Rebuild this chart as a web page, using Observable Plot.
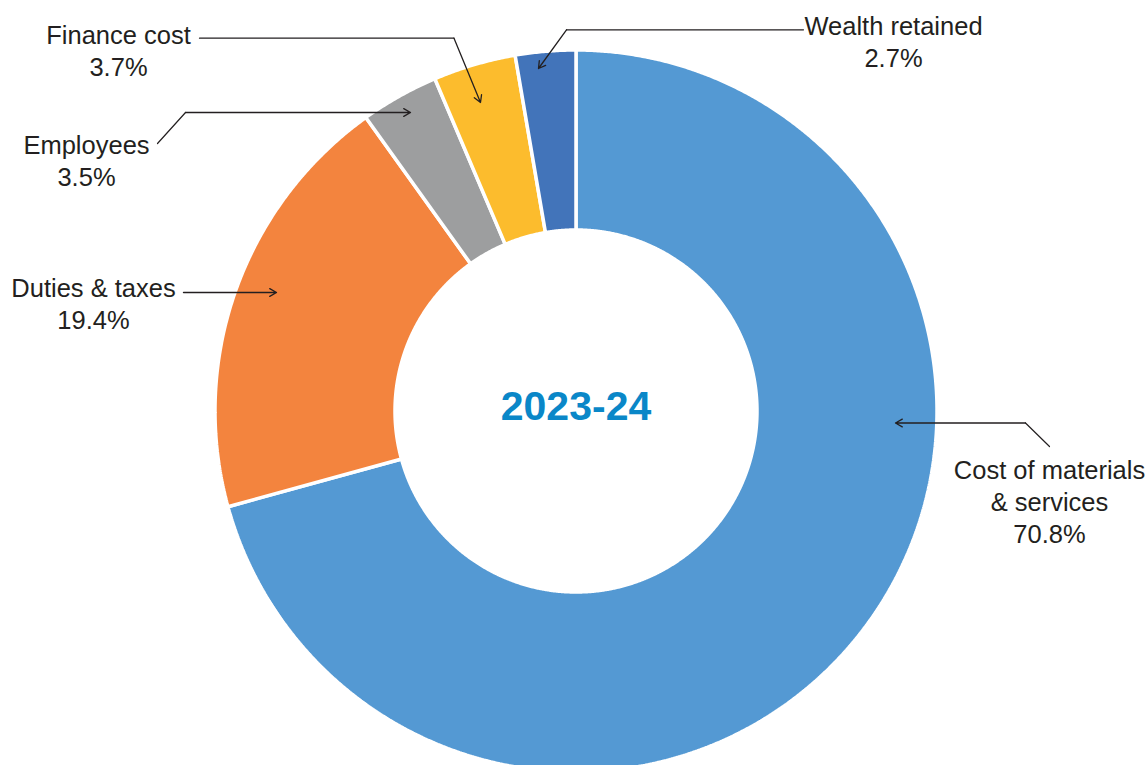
<!DOCTYPE html>
<html>
<head>
<meta charset="utf-8">
<script src="https://cdn.jsdelivr.net/npm/d3@7"></script>
<script src="https://cdn.jsdelivr.net/npm/@observablehq/plot@0.6"></script>
<style>
  html, body { margin: 0; padding: 0; background: #fff; }
  #chart svg { display: block; }
</style>
</head>
<body>
<div id="chart"></div>
<script>
// ---- data ----
const categories = ["Cost of materials & services", "Duties & taxes", "Employees", "Finance cost", "Wealth retained"];
const shares = [70.8, 19.4, 3.5, 3.7, 2.7];
const labelNames = [["Cost of materials", "& services"], ["Duties & taxes"], ["Employees"], ["Finance cost"], ["Wealth retained"]];
const colors = ["#5499d3", "#f3843e", "#9d9e9f", "#fcbc2d", "#4274ba"];
const centerLabel = "2023-24";

// ---- layout (pixels) ----
const W = 1147, H = 765;
const CX = 575.5, CY = 410.5, R_OUT = 361, R_IN = 181;
const labelPos = [ // x center, y of last baseline
  {x: 1049, y: 542},
  {x: 93, y: 328},
  {x: 86, y: 185},
  {x: 118, y: 75},
  {x: 893, y: 66}
];
const leaders = [ // start, elbow, tip
  [[1049, 446], [1025, 422.5], [895, 422.5]],
  [[183, 292], [183, 292], [276, 292]],
  [[157, 143], [185, 112], [410, 112]],
  [[199, 37.7], [453.5, 37.7], [480, 102]],
  [[803, 29.3], [566, 29.3], [538, 68]]
];

// ---- slices ----
const arcs = d3.pie().sort(null).value(d => d)(shares);
const poly = [];
arcs.forEach((a, i) => {
  const n = Math.max(4, Math.ceil((a.endAngle - a.startAngle) / 0.005));
  const pts = [];
  for (let k = 0; k <= n; k++) {
    const t = a.startAngle + (a.endAngle - a.startAngle) * k / n;
    pts.push([CX + R_OUT * Math.sin(t), CY - R_OUT * Math.cos(t)]);
  }
  for (let k = n; k >= 0; k--) {
    const t = a.startAngle + (a.endAngle - a.startAngle) * k / n;
    pts.push([CX + R_IN * Math.sin(t), CY - R_IN * Math.cos(t)]);
  }
  pts.forEach(p => poly.push({cat: categories[i], x: p[0], y: p[1]}));
});

const labels = categories.map((c, i) => ({
  cat: c,
  text: [...labelNames[i], shares[i].toFixed(1) + "%"].join("\n"),
  x: labelPos[i].x, y: labelPos[i].y
}));

const lineSegs = [];
leaders.forEach((l, i) => {
  lineSegs.push({k: i, x: l[0][0], y: l[0][1]});
  lineSegs.push({k: i, x: l[1][0], y: l[1][1]});
});
const arrowSegs = leaders.map((l, i) => ({x1: l[1][0], y1: l[1][1], x2: l[2][0], y2: l[2][1]}));

const chart = Plot.plot({
  width: W,
  height: H,
  margin: 0,
  x: {type: "identity", axis: null},
  y: {type: "identity", axis: null},
  color: {domain: categories, range: colors},
  style: {fontFamily: "Arial, 'Liberation Sans', Helvetica, sans-serif", background: "#fff"},
  marks: [
    Plot.line(poly, {x: "x", y: "y", z: "cat", fill: "cat", stroke: "#fff", strokeWidth: 3.5, curve: "linear-closed", strokeLinejoin: "miter"}),
    Plot.line(lineSegs, {x: "x", y: "y", z: "k", stroke: "#231f20", strokeWidth: 1.2}),
    Plot.arrow(arrowSegs, {x1: "x1", y1: "y1", x2: "x2", y2: "y2", stroke: "#231f20", strokeWidth: 1.3, headLength: 9, insetEnd: 0, insetStart: 0, bend: 0}),
    Plot.text(labels, {x: "x", y: "y", text: "text", fontSize: 25.5, lineHeight: 1.25, lineAnchor: "bottom", textAnchor: "middle", fill: "#231f20"}),
    Plot.text([centerLabel], {x: () => CX, y: () => 419, text: d => d, fontSize: 41, fontWeight: "bold", lineAnchor: "bottom", fill: "#0a87c8"})
  ]
});
document.getElementById("chart").appendChild(chart);
</script>
</body>
</html>
